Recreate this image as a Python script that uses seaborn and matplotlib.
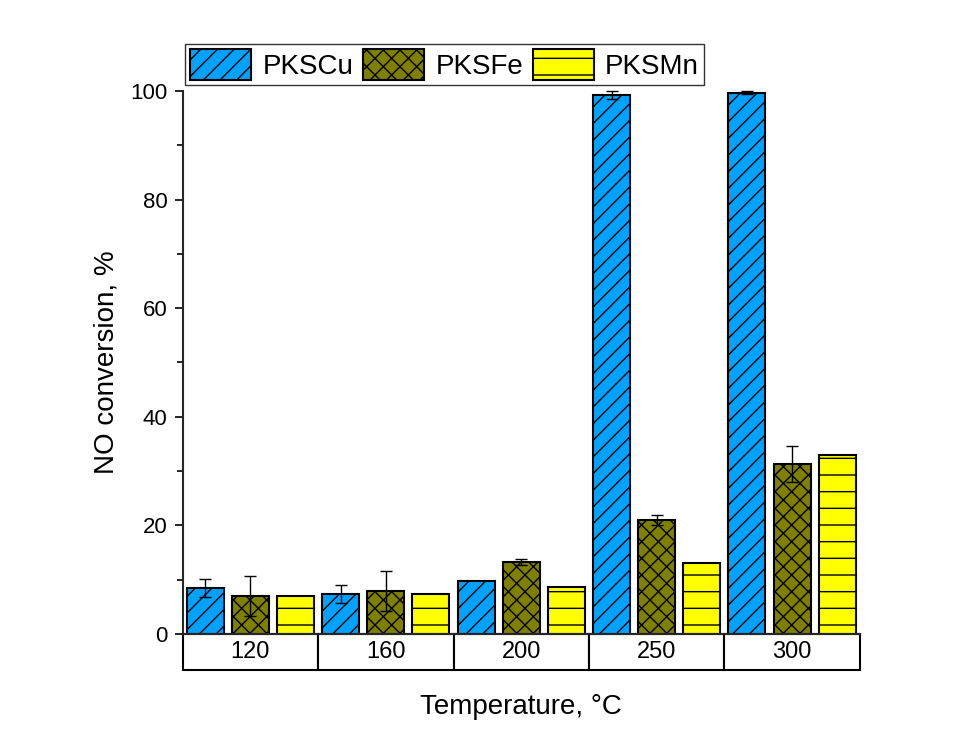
import matplotlib
matplotlib.use("Agg")
import matplotlib.pyplot as plt
import seaborn as sns
import pandas as pd
from matplotlib.ticker import MultipleLocator

temps = ["120", "160", "200", "250", "300"]
series = ["PKSCu", "PKSFe", "PKSMn"]
cu = [8.5, 7.4, 9.8, 99.2, 99.7]
fe = [7.0, 7.9, 13.3, 21.0, 31.3]
mn = [7.0, 7.4, 8.7, 13.1, 33.0]
cu_err = [1.6, 1.7, 0.0, 0.7, 0.2]
fe_err = [3.7, 3.7, 0.6, 1.0, 3.3]
mn_err = [0.0, 0.0, 0.0, 0.0, 0.0]
colors = ["#00A2FF", "#808000", "#FFFF00"]
hatches = ["//", "xx", "-"]

sns.set_style("ticks")
plt.rcParams["font.family"] = ["Liberation Sans", "DejaVu Sans"]
plt.rcParams["hatch.linewidth"] = 1.0
plt.rcParams["hatch.color"] = "black"
plt.rcParams["text.color"] = "black"
plt.rcParams["axes.labelcolor"] = "black"
plt.rcParams["xtick.color"] = "black"
plt.rcParams["ytick.color"] = "black"

rows = []
for name, vals in zip(series, [cu, fe, mn]):
    for t, v in zip(temps, vals):
        rows.append({"Temperature": t, "value": v, "catalyst": name})
df = pd.DataFrame(rows)

fig = plt.figure(figsize=(9.77, 7.45), dpi=100)
ax = fig.add_axes([0.187, 0.149, 0.693, 0.729])

sns.barplot(data=df, x="Temperature", y="value", hue="catalyst", order=temps,
            hue_order=series, palette=colors, width=1.0, gap=0.18,
            edgecolor="black", linewidth=1.5, errorbar=None, legend=False,
            saturation=1, ax=ax)

bar_containers = list(ax.containers)
for cont, h, errs in zip(bar_containers, hatches, [cu_err, fe_err, mn_err]):
    xs, ys, es = [], [], []
    for patch, e in zip(cont.patches, errs):
        patch.set_hatch(h)
        if e > 0:
            xs.append(patch.get_x() + patch.get_width() / 2)
            ys.append(patch.get_height())
            es.append(e)
    if xs:
        ax.errorbar(xs, ys, yerr=es, fmt="none", ecolor="black", elinewidth=1.0,
                    capsize=4, capthick=1.0, clip_on=False, zorder=5)

ax.set_xlim(-0.5, 4.5)
ax.set_ylim(0, 100)
ax.yaxis.set_major_locator(MultipleLocator(20))
ax.yaxis.set_minor_locator(MultipleLocator(10))
ax.tick_params(axis="y", which="major", length=6, width=1.2, labelsize=16,
               direction="out", pad=5)
ax.tick_params(axis="y", which="minor", length=4, width=1.2, direction="out")
ax.set_xticks([])
for s in ["top", "right"]:
    ax.spines[s].set_visible(False)
ax.spines["left"].set_linewidth(1.5)
ax.spines["bottom"].set_linewidth(1.5)

ax.set_ylabel("NO conversion, %", fontsize=20, labelpad=8)
ax.set_xlabel("Temperature, \u00b0C", fontsize=20, labelpad=43)

h_frac = 36 / 543
tbl = ax.table(cellText=[temps], cellLoc="center", bbox=[0, -h_frac, 1, h_frac])
tbl.auto_set_font_size(False)
tbl.set_fontsize(17)
for cell in tbl.get_celld().values():
    cell.set_linewidth(1.5)
    cell.set_edgecolor("black")

handles = [cont.patches[0] for cont in bar_containers]
leg = ax.legend(handles, series, loc="lower left", bbox_to_anchor=(0.003, 1.01),
                ncol=3, fontsize=20, frameon=True, fancybox=False,
                edgecolor="black", handlelength=2.2, handleheight=1.3,
                handletextpad=0.4, columnspacing=0.35, borderpad=0.2,
                borderaxespad=0)
leg.get_frame().set_linewidth(1.0)

fig.savefig("out.png", dpi=100, facecolor="white")
